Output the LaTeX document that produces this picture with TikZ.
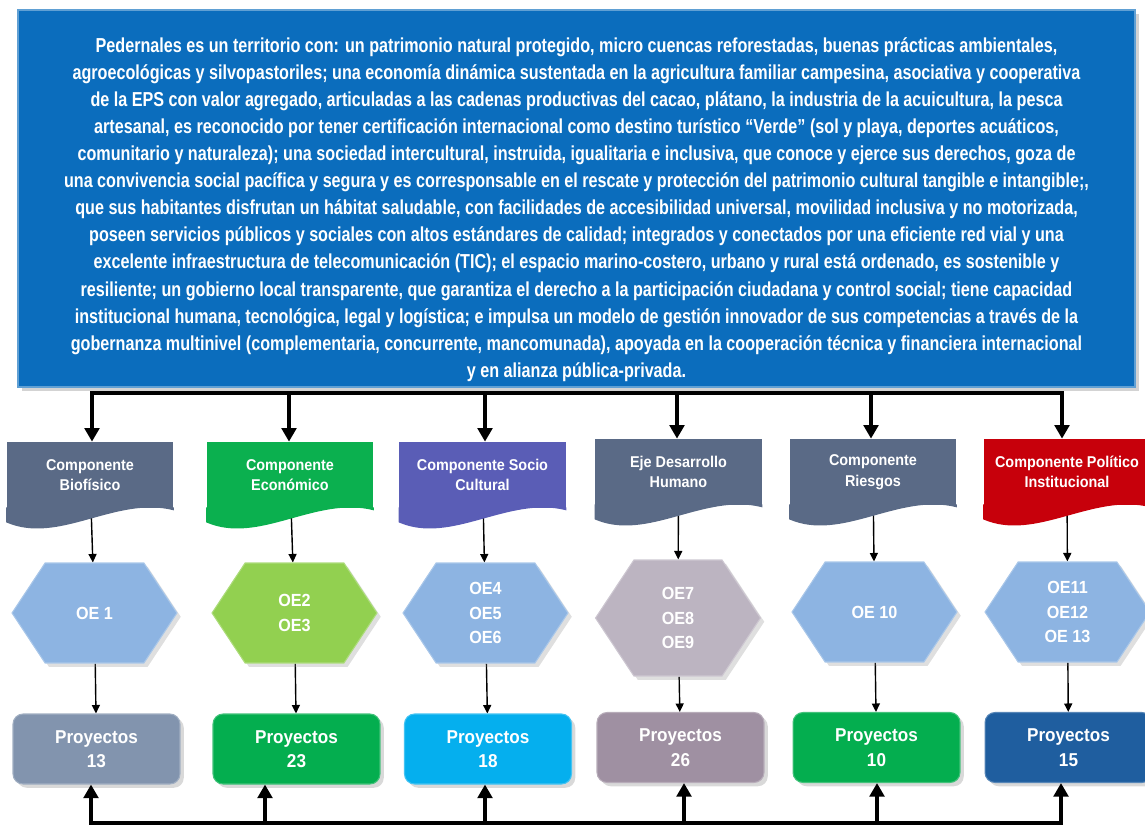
\documentclass[tikz,border=0pt]{standalone}
\usepackage{fontspec}
\usepackage{xcolor}
\usetikzlibrary{shapes.symbols, arrows.meta, calc, backgrounds, shadows}
\newfontfamily\visfont{Liberation Sans}[FakeStretch=0.8]
\newfontfamily\lblfont{Liberation Sans}[FakeStretch=0.92]
\definecolor{visblue}{HTML}{0B6DBD}
\definecolor{slate}{HTML}{5A6A86}
\definecolor{ecogreen}{HTML}{0BB04F}
\definecolor{sociopurple}{HTML}{5A5DB6}
\definecolor{polred}{HTML}{C7000B}
\definecolor{hexblue}{HTML}{8DB4E2}
\definecolor{hexgreen}{HTML}{92D050}
\definecolor{hexgray}{HTML}{BCB4C1}
\definecolor{proyslate}{HTML}{8294AE}
\definecolor{proygreen}{HTML}{04AE4F}
\definecolor{proycyan}{HTML}{05AFEE}
\definecolor{proymauve}{HTML}{9F90A2}
\definecolor{proyblue}{HTML}{1F5E9F}

\begin{document}
\begin{tikzpicture}[
    x=0.02cm, y=-0.02cm,
    vision/.style={
      rectangle, fill=visblue, draw=visblue!65!white, line width=0.8pt,
      drop shadow={opacity=0.35},
      minimum width=22.34cm, minimum height=7.54cm, inner sep=0pt,
      align=center, text=white, font=\visfont\bfseries\fontsize{11.5}{15.4}\selectfont
    },
    hdr/.style={
      rectangle, fill=#1, minimum width=3.34cm, minimum height=1.32cm, inner sep=0pt,
      align=center, text=white, font=\lblfont\bfseries\fontsize{8.9}{11.7}\selectfont,
      append after command={\pgfextra{
        \fill[#1] ($(\tikzlastnode.south east)+(0,-1)$) -- ++(0,3)
          .. controls +(-58,-15) and +(53,23) .. ($(\tikzlastnode.south west)+(0,14)$)
          -- ($(\tikzlastnode.south west)+(0,-1)$) -- cycle;}}
    },
    hexa/.style={
      signal, signal to=east and west, signal pointer angle=113,
      fill=#1, draw=#1!75!white, line width=0.6pt, drop shadow={opacity=0.25},
      minimum width=3.3cm, minimum height=2cm, inner sep=0pt,
      align=center, text=white, font=\lblfont\bfseries\fontsize{10}{13.9}\selectfont
    },
    proy/.style={
      rectangle, rounded corners=0.2cm, fill=#1, draw=#1!75!white, line width=0.6pt,
      drop shadow={opacity=0.3},
      minimum width=3.34cm, minimum height=1.4cm, inner sep=0pt,
      align=center, text=white, font=\lblfont\bfseries\fontsize{10.6}{13.9}\selectfont
    },
    arr/.style={-{Triangle[length=0.17cm, width=0.16cm]}, line width=0.8pt, black},
    bigarr/.style={-{Triangle[length=0.27cm, width=0.29cm]}, line width=2.4pt, black},
    bus/.style={line width=2.4pt, line cap=rect, black},
  ]
  \useasboundingbox (0,0) rectangle (1145,827);

  \node[vision] (vis) at (576.5,198.5) {\rule{0pt}{21pt}Pedernales es un territorio con: un patrimonio natural protegido, micro cuencas reforestadas, buenas prácticas ambientales,\\
    agroecológicas y silvopastoriles; una economía dinámica sustentada en la agricultura familiar campesina, asociativa y cooperativa\\
    de la EPS con valor agregado, articuladas a las cadenas productivas del cacao, plátano, la industria de la acuicultura, la pesca\\
    artesanal, es reconocido por tener certificación internacional como destino turístico “Verde” (sol y playa, deportes acuáticos,\\
    comunitario y naturaleza); una sociedad intercultural, instruida, igualitaria e inclusiva, que conoce y ejerce sus derechos, goza de\\
    una convivencia social pacífica y segura y es corresponsable en el rescate y protección del patrimonio cultural tangible e intangible;,\\
    que sus habitantes disfrutan un hábitat saludable, con facilidades de accesibilidad universal, movilidad inclusiva y no motorizada,\\
    poseen servicios públicos y sociales con altos estándares de calidad; integrados y conectados por una eficiente red vial y una\\
    excelente infraestructura de telecomunicación (TIC); el espacio marino-costero, urbano y rural está ordenado, es sostenible y\\
    resiliente; un gobierno local transparente, que garantiza el derecho a la participación ciudadana y control social; tiene capacidad\\
    institucional humana, tecnológica, legal y logística; e impulsa un modelo de gestión innovador de sus competencias a través de la\\
    gobernanza multinivel (complementaria, concurrente, mancomunada), apoyada en la cooperación técnica y financiera internacional\\
    y en alianza pública-privada.};

  \node[hdr=slate] (h1) at (90,475) {Componente\\Biofísico};
  \node[hdr=ecogreen] (h2) at (290,475) {Componente\\Económico};
  \node[hdr=sociopurple] (h3) at (482.5,475) {Componente Socio\\Cultural};
  \node[hdr=slate] (h4) at (678.5,472) {Eje Desarrollo\\Humano};
  \node[hdr=slate] (h5) at (873,472) {Componente\\Riesgos};
  \node[hdr=polred] (h6) at (1067,472) {Componente Político\\Institucional};

  \node[hexa=hexblue] (o1) at (94.5,613) {OE 1};
  \node[hexa=hexgreen] (o2) at (294.5,613) {OE2\\OE3};
  \node[hexa=hexblue] (o3) at (485.5,613) {OE4\\OE5\\OE6};
  \node[hexa=hexgray, minimum height=2.32cm] (o4) at (678,618) {OE7\\OE8\\OE9};
  \node[hexa=hexblue] (o5) at (874.5,612) {OE 10};
  \node[hexa=hexblue] (o6) at (1067.5,612) {OE11\\OE12\\OE 13};

  \node[proy=proyslate] (p1) at (96.5,749) {Proyectos\\13};
  \node[proy=proygreen] (p2) at (296.5,749) {Proyectos\\23};
  \node[proy=proycyan] (p3) at (488,749) {Proyectos\\18};
  \node[proy=proymauve] (p4) at (680.5,747.5) {Proyectos\\26};
  \node[proy=proygreen] (p5) at (876.5,747.5) {Proyectos\\10};
  \node[proy=proyblue] (p6) at (1068.5,747.5) {Proyectos\\15};

  \coordinate (t1) at (92,393);
  \coordinate (t2) at (289,393);
  \coordinate (t3) at (485,393);
  \coordinate (t4) at (677,393);
  \coordinate (t5) at (871,393);
  \coordinate (t6) at (1062,393);
  \coordinate (b1) at (91,823);
  \coordinate (b2) at (265,823);
  \coordinate (b3) at (485,823);
  \coordinate (b4) at (684,823);
  \coordinate (b5) at (877,823);
  \coordinate (b6) at (1061,823);

  \begin{scope}[on background layer]
    \draw[arr] (h1) -- (o1);
    \draw[arr] (h2) -- (o2);
    \draw[arr] (h3) -- (o3);
    \draw[arr] (h4) -- (o4);
    \draw[arr] (h5) -- (o5);
    \draw[arr] (h6) -- (o6);
    \draw[arr] (o1) -- (p1);
    \draw[arr] (o2) -- (p2);
    \draw[arr] (o3) -- (p3);
    \draw[arr] (o4) -- (p4);
    \draw[arr] (o5) -- (p5);
    \draw[arr] (o6) -- (p6);
  \end{scope}

  \draw[bus] (t1) -- (t6);
  \draw[bigarr] (t1) -- (t1 |- h1.north);
  \draw[bigarr] (t2) -- (t2 |- h2.north);
  \draw[bigarr] (t3) -- (t3 |- h3.north);
  \draw[bigarr] (t4) -- (t4 |- h4.north);
  \draw[bigarr] (t5) -- (t5 |- h5.north);
  \draw[bigarr] (t6) -- (t6 |- h6.north);

  \draw[bus] (b1) -- (b6);
  \draw[bigarr] (b1) -- (b1 |- p1.south);
  \draw[bigarr] (b2) -- (b2 |- p2.south);
  \draw[bigarr] (b3) -- (b3 |- p3.south);
  \draw[bigarr] (b4) -- (b4 |- p4.south);
  \draw[bigarr] (b5) -- (b5 |- p5.south);
  \draw[bigarr] (b6) -- (b6 |- p6.south);
\end{tikzpicture}
\end{document}
